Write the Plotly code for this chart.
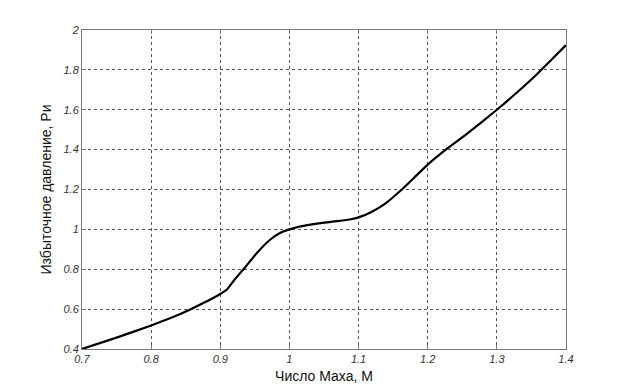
import plotly.graph_objects as go

mach = [0.70, 0.75, 0.80, 0.83, 0.855, 0.88, 0.90, 0.91, 0.92, 0.936, 0.953, 0.972, 0.987,
        1.00, 1.016, 1.04, 1.069, 1.089, 1.103, 1.118, 1.137, 1.161, 1.18, 1.20, 1.228,
        1.257, 1.30, 1.322, 1.356, 1.38, 1.40]
pressure = [0.40, 0.457, 0.518, 0.558, 0.596, 0.638, 0.676, 0.70, 0.745, 0.81, 0.882, 0.948, 0.983,
            1.0, 1.015, 1.029, 1.041, 1.051, 1.064, 1.086, 1.125, 1.195, 1.258, 1.325, 1.405,
            1.48, 1.60, 1.665, 1.772, 1.855, 1.924]

x_ticks = [0.7, 0.8, 0.9, 1.0, 1.1, 1.2, 1.3, 1.4]
x_tick_text = ["0.7", "0.8", "0.9", "1", "1.1", "1.2", "1.3", "1.4"]
y_ticks = [0.4, 0.6, 0.8, 1.0, 1.2, 1.4, 1.6, 1.8, 2.0]
y_tick_text = ["0.4", "0.6", "0.8", "1", "1.2", "1.4", "1.6", "1.8", "2"]

x_title = "Число Маха, М"
y_title = "Избыточное давление, Ри"

fig = go.Figure()
fig.add_trace(go.Scatter(x=mach, y=pressure, mode="lines",
                         line=dict(color="black", width=2.2, shape="spline", smoothing=0.4),
                         showlegend=False, hoverinfo="skip"))

tickfont = dict(family="Liberation Sans, Arial, sans-serif", size=11, color="#333333", style="italic")
axis_common = dict(showline=True, linecolor="#7a7a7a", linewidth=1, mirror="ticks",
                   ticks="inside", ticklen=4, tickcolor="#7a7a7a",
                   showgrid=True, gridcolor="#555555", griddash="dot", gridwidth=1,
                   zeroline=False, tickfont=tickfont)

fig.update_xaxes(range=[0.7, 1.4], tickvals=x_ticks, ticktext=x_tick_text,
                 title=dict(text=x_title, font=dict(family="Liberation Sans, Arial, sans-serif", size=14, color="#111"),
                            standoff=6),
                 **axis_common)
fig.update_yaxes(range=[0.4, 2.0], tickvals=y_ticks, ticktext=y_tick_text,
                 title=dict(text=y_title, font=dict(family="Liberation Sans, Arial, sans-serif", size=14, color="#111"),
                            standoff=8),
                 **axis_common)

fig.update_layout(width=625, height=392,
                  margin=dict(l=74, r=67, t=22, b=51, pad=0),
                  paper_bgcolor="white", plot_bgcolor="white")

fig.write_html("out.html")
